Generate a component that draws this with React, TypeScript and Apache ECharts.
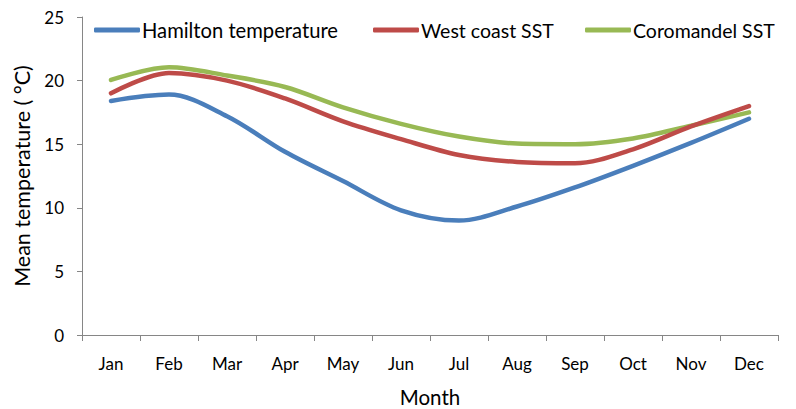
import React, { useEffect, useRef } from "react";
import * as echarts from "echarts";

const months = ["Jan", "Feb", "Mar", "Apr", "May", "Jun", "Jul", "Aug", "Sep", "Oct", "Nov", "Dec"];
const hamilton = [18.4, 18.9, 17.2, 14.4, 12.1, 9.8, 9.0, 10.1, 11.6, 13.3, 15.1, 17.0];
const westCoast = [19.0, 20.6, 20.0, 18.6, 16.8, 15.4, 14.15, 13.6, 13.5, 14.6, 16.4, 18.0];
const coromandel = [20.05, 21.05, 20.4, 19.5, 17.9, 16.6, 15.6, 15.05, 15.0, 15.45, 16.45, 17.5];
const seriesNames = ["Hamilton temperature", "West coast SST", "Coromandel SST"];
const colors = ["#4A7EBB", "#BE4B48", "#98B954"];
const yTicks = { min: 0, max: 25, interval: 5 };

const FONT = "Lato, 'Open Sans', sans-serif";

export default function App() {
  const ref = useRef<HTMLDivElement>(null);
  useEffect(() => {
    document.body.style.margin = "0";
    const chart = echarts.init(ref.current!, null, { renderer: "svg" });
    const legendLefts = [89, 368, 580];
    const fontSizes = [20.2, 19.5, 19.5];
    const seriesData = [hamilton, westCoast, coromandel];
    chart.setOption({
      animation: false,
      backgroundColor: "#ffffff",
      textStyle: { fontFamily: FONT },
      grid: { left: 82, right: 18, top: 17, bottom: 74, containLabel: false, outerBoundsMode: "none" },
      legend: seriesNames.map((n, i) => ({
        data: [n],
        left: legendLefts[i],
        top: 15,
        icon: "roundRect",
        itemWidth: 46,
        itemHeight: 5,
        itemStyle: { borderWidth: 0 },
        textStyle: { fontSize: fontSizes[i], color: "#000", fontFamily: FONT, padding: [0, 0, 0, -3] },
        selectedMode: false,
      })),
      xAxis: {
        type: "category",
        data: months,
        boundaryGap: true,
        name: "Month",
        nameLocation: "middle",
        nameGap: 51,
        nameTextStyle: { fontSize: 20.5, color: "#000", fontFamily: FONT },
        axisLine: { lineStyle: { color: "#868686", width: 1 } },
        axisTick: { show: true, length: 6, alignWithLabel: false, lineStyle: { color: "#868686" } },
        axisLabel: { fontSize: 17, color: "#000", margin: 20, fontFamily: FONT },
        splitLine: { show: false },
      },
      yAxis: {
        type: "value",
        min: yTicks.min,
        max: yTicks.max,
        interval: yTicks.interval,
        name: "Mean temperature ( °C)",
        nameLocation: "middle",
        nameRotate: 90,
        nameGap: 46,
        nameTextStyle: { fontSize: 21.5, color: "#000", fontFamily: FONT },
        axisLine: { show: true, lineStyle: { color: "#868686", width: 1 } },
        axisTick: { show: true, length: 5, lineStyle: { color: "#868686" } },
        axisLabel: { fontSize: 17, color: "#000", margin: 18, fontFamily: FONT },
        splitLine: { show: false },
      },
      series: seriesNames.map((n, i) => ({
        name: n,
        type: "line",
        data: seriesData[i],
        smooth: 0.33,
        symbol: "none",
        lineStyle: { color: colors[i], width: 4.5, cap: "round" },
        itemStyle: { color: colors[i] },
        z: 3 + (2 - i),
      })),
    });
    return () => chart.dispose();
  }, []);
  return <div ref={ref} style={{ width: 796, height: 409 }} />;
}
